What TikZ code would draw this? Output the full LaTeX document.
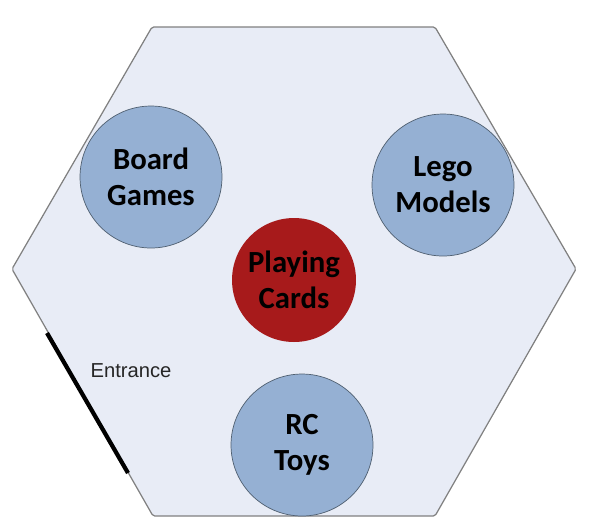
\documentclass[tikz,border=0pt]{standalone}
\usepackage{fontspec}
\setmainfont{Carlito}
\newfontfamily\entfont{Liberation Sans}
\usepackage{xcolor}
\usetikzlibrary{positioning}
\definecolor{hexfill}{HTML}{E8ECF6}
\definecolor{hexline}{HTML}{808080}
\definecolor{standfill}{HTML}{95B0D3}
\definecolor{standline}{HTML}{4F5F70}
\definecolor{cardred}{HTML}{A71A1B}
\tikzset{stand/.style={circle, draw=standline, fill=standfill, minimum size=2.84cm, inner sep=0pt, align=center, font=\fontsize{17.5}{20.5}\selectfont\bfseries}}

\begin{document}
\begin{tikzpicture}[x=0.02cm, y=-0.02cm]
            \useasboundingbox (0,0) rectangle (591,529);
            \draw[hexline, fill=hexfill, line width=0.7pt, rounded corners=1pt] (152,27) -- (435,27) -- (576,269) -- (435,516) -- (153,516) -- (12,269) -- cycle;
            \node[stand] (board) at (151,177) {Board\\Games};
            \node[stand] (lego) at (443,185) {Lego\\Models};
            \node[stand] (rc) at (302,445) {RC\\Toys};
            \node[stand, fill=cardred, draw=none, minimum size=2.48cm] (cards) at (294,280) {Playing\\Cards};
            \coordinate (door1) at (47,333);
            \coordinate (door2) at (128,473);
            \draw[line width=2.4pt] (door1) -- (door2);
            \node[font=\entfont\fontsize{11.5}{13}\selectfont, text=black!85] (entrance) at (131,371) {Entrance};
        \end{tikzpicture}
\end{document}
